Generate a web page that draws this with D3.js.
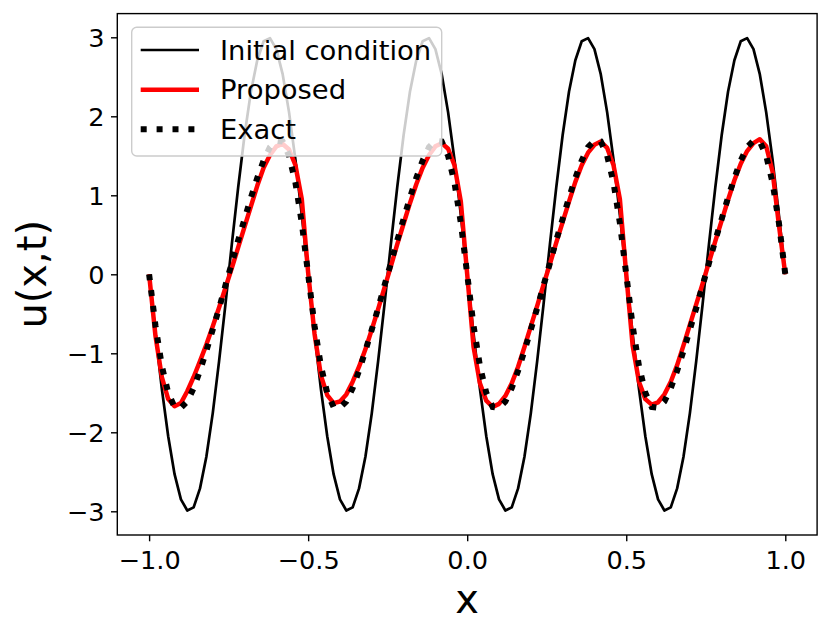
<!DOCTYPE html>
<html>
<head>
<meta charset="utf-8">
<script src="https://d3js.org/d3.v7.min.js"></script>
<style>
  body { margin: 0; background: #fff; }
  svg { display: block; font-family: "DejaVu Sans", sans-serif; }
</style>
</head>
<body>
<script>
// sample points along x (step 0.02)
var xGrid = [
  -1.00, -0.98, -0.96, -0.94, -0.92, -0.90, -0.88, -0.86, -0.84, -0.82,
  -0.80, -0.78, -0.76, -0.74, -0.72, -0.70, -0.68, -0.66, -0.64, -0.62,
  -0.60, -0.58, -0.56, -0.54, -0.52, -0.50, -0.48, -0.46, -0.44, -0.42,
  -0.40, -0.38, -0.36, -0.34, -0.32, -0.30, -0.28, -0.26, -0.24, -0.22,
  -0.20, -0.18, -0.16, -0.14, -0.12, -0.10, -0.08, -0.06, -0.04, -0.02,
   0.00,  0.02,  0.04,  0.06,  0.08,  0.10,  0.12,  0.14,  0.16,  0.18,
   0.20,  0.22,  0.24,  0.26,  0.28,  0.30,  0.32,  0.34,  0.36,  0.38,
   0.40,  0.42,  0.44,  0.46,  0.48,  0.50,  0.52,  0.54,  0.56,  0.58,
   0.60,  0.62,  0.64,  0.66,  0.68,  0.70,  0.72,  0.74,  0.76,  0.78,
   0.80,  0.82,  0.84,  0.86,  0.88,  0.90,  0.92,  0.94,  0.96,  0.98,
   1.00
];

// black solid curve
var initialCondition = [
  0, -0.75, -1.45, -2.05, -2.53, -2.85, -2.99, -2.95, -2.71, -2.31, -1.76, -1.10, -0.38,
  0.38, 1.10, 1.76, 2.31, 2.71, 2.95, 2.99, 2.85, 2.53, 2.05, 1.45, 0.75,
  0, -0.75, -1.45, -2.05, -2.53, -2.85, -2.99, -2.95, -2.71, -2.31, -1.76, -1.10, -0.38,
  0.38, 1.10, 1.76, 2.31, 2.71, 2.95, 2.99, 2.85, 2.53, 2.05, 1.45, 0.75,
  0, -0.75, -1.45, -2.05, -2.53, -2.85, -2.99, -2.95, -2.71, -2.31, -1.76, -1.10, -0.38,
  0.38, 1.10, 1.76, 2.31, 2.71, 2.95, 2.99, 2.85, 2.53, 2.05, 1.45, 0.75,
  0, -0.75, -1.45, -2.05, -2.53, -2.85, -2.99, -2.95, -2.71, -2.31, -1.76, -1.10, -0.38,
  0.38, 1.10, 1.76, 2.31, 2.71, 2.95, 2.99, 2.85, 2.53, 2.05, 1.45, 0.75,
  0
];

// red curve
var proposed = [
  0, -0.78, -1.30, -1.58, -1.67, -1.63, -1.48, -1.30, -1.10, -0.89, -0.66, -0.42, -0.17,
  0.08, 0.34, 0.60, 0.86, 1.12, 1.35, 1.51, 1.62, 1.65, 1.58, 1.38, 0.95,
  0.02, -0.75, -1.28, -1.53, -1.63, -1.61, -1.52, -1.36, -1.17, -0.95, -0.70, -0.44, -0.17,
  0.10, 0.38, 0.64, 0.90, 1.14, 1.35, 1.51, 1.62, 1.66, 1.59, 1.38, 0.92,
  0, -0.92, -1.38, -1.60, -1.68, -1.64, -1.54, -1.38, -1.17, -0.92, -0.66, -0.40, -0.13,
  0.13, 0.40, 0.66, 0.92, 1.17, 1.38, 1.54, 1.64, 1.68, 1.60, 1.38, 0.95,
  0, -0.90, -1.36, -1.58, -1.65, -1.62, -1.52, -1.36, -1.15, -0.90, -0.64, -0.38, -0.12,
  0.15, 0.42, 0.68, 0.94, 1.19, 1.40, 1.56, 1.66, 1.71, 1.62, 1.30, 0.62,
  0
];

// dotted curve
var exact = [
  0, -0.65, -1.16, -1.50, -1.68, -1.69, -1.61, -1.44, -1.22, -0.97, -0.70, -0.43, -0.14,
  0.14, 0.43, 0.70, 0.97, 1.22, 1.44, 1.61, 1.69, 1.68, 1.50, 1.16, 0.65,
  0, -0.65, -1.16, -1.50, -1.68, -1.69, -1.61, -1.44, -1.22, -0.97, -0.70, -0.43, -0.14,
  0.14, 0.43, 0.70, 0.97, 1.22, 1.44, 1.61, 1.69, 1.68, 1.50, 1.16, 0.65,
  0, -0.65, -1.16, -1.50, -1.68, -1.69, -1.61, -1.44, -1.22, -0.97, -0.70, -0.43, -0.14,
  0.14, 0.43, 0.70, 0.97, 1.22, 1.44, 1.61, 1.69, 1.68, 1.50, 1.16, 0.65,
  0, -0.65, -1.16, -1.50, -1.68, -1.69, -1.61, -1.44, -1.22, -0.97, -0.70, -0.43, -0.14,
  0.14, 0.43, 0.70, 0.97, 1.22, 1.44, 1.61, 1.69, 1.68, 1.50, 1.16, 0.65,
  0
];

var xTicks = [-1.0, -0.5, 0.0, 0.5, 1.0];
var yTicks = [-3, -2, -1, 0, 1, 2, 3];
var legendLabels = ["Initial condition", "Proposed", "Exact"];

window.onload = function(){

  var w = 831, h = 639;
  var left = 117.3, right = 817.1, top = 13.6, bottom = 535;

  var svg = d3.select("body")
    .append("svg")
    .attr("width", w)
    .attr("height", h);

  var x = d3.scaleLinear().domain([-1.1, 1.1]).range([left, right]);
  var y = d3.scaleLinear().domain([-3.3, 3.3]).range([bottom, top]);

  var line = d3.line()
    .x(function(d){ return x(d[0]); })
    .y(function(d){ return y(d[1]); });

  // curves: black, red, then dots on top
  svg.append("path")
    .datum(d3.zip(xGrid, initialCondition))
    .attr("d", line)
    .attr("fill", "none")
    .attr("stroke", "#000")
    .attr("stroke-width", 2.7)
    .attr("stroke-linejoin", "round");

  svg.append("path")
    .datum(d3.zip(xGrid, proposed))
    .attr("d", line)
    .attr("fill", "none")
    .attr("stroke", "#ff0000")
    .attr("stroke-width", 4.5)
    .attr("stroke-linejoin", "round");

  svg.append("path")
    .datum(d3.zip(xGrid, exact))
    .attr("d", line)
    .attr("fill", "none")
    .attr("stroke", "#000")
    .attr("stroke-width", 6)
    .attr("stroke-dasharray", "6,9.9");

  // axes
  var xAxis = d3.axisBottom(x)
    .tickValues(xTicks)
    .tickFormat(d3.format(".1f"))
    .tickSize(6.3)
    .tickSizeOuter(0);

  var gx = svg.append("g")
    .attr("transform", "translate(0," + bottom + ")")
    .call(xAxis);
  gx.select(".domain").remove();
  gx.selectAll("line").attr("stroke", "#000").attr("stroke-width", 1.4);
  gx.selectAll("text")
    .attr("y", 34.3)
    .attr("dy", null)
    .attr("fill", "#000")
    .style("font-size", "25.6px")
    .style("font-family", "DejaVu Sans, sans-serif");

  var yAxis = d3.axisLeft(y)
    .tickValues(yTicks)
    .tickFormat(d3.format("d"))
    .tickSize(6.3)
    .tickSizeOuter(0);

  var gy = svg.append("g")
    .attr("transform", "translate(" + left + ",0)")
    .call(yAxis);
  gy.select(".domain").remove();
  gy.selectAll("line").attr("stroke", "#000").attr("stroke-width", 1.4);
  gy.selectAll("text")
    .attr("x", -12.8)
    .attr("dy", "0.36em")
    .attr("fill", "#000")
    .style("font-size", "25.6px")
    .style("font-family", "DejaVu Sans, sans-serif");

  // frame
  svg.append("rect")
    .attr("x", left)
    .attr("y", top)
    .attr("width", right - left)
    .attr("height", bottom - top)
    .attr("fill", "none")
    .attr("stroke", "#000")
    .attr("stroke-width", 1.4);

  // axis titles
  svg.append("text")
    .attr("x", (left + right) / 2)
    .attr("y", 613.3)
    .attr("text-anchor", "middle")
    .style("font-size", "40px")
    .text("x");

  svg.append("text")
    .attr("transform", "translate(46," + y(0) + ") rotate(-90)")
    .attr("text-anchor", "middle")
    .style("font-size", "40px")
    .text("u(x,t)");

  // legend
  var legend = svg.append("g").attr("class", "legend");
  legend.append("rect")
    .attr("x", 131.7)
    .attr("y", 27.3)
    .attr("width", 310)
    .attr("height", 128.7)
    .attr("rx", 5)
    .attr("fill", "#fff")
    .attr("fill-opacity", 0.8)
    .attr("stroke", "#cccccc")
    .attr("stroke-width", 1.4);

  var handleStyles = [
    { color: "#000", width: 2.7, dash: null },
    { color: "#ff0000", width: 4.5, dash: null },
    { color: "#000", width: 6, dash: "6,9.9" }
  ];

  legendLabels.forEach(function(label, i){
    var ly = 50 + i * 39.65;
    legend.append("line")
      .attr("x1", 140.7)
      .attr("x2", 199)
      .attr("y1", ly)
      .attr("y2", ly)
      .attr("stroke", handleStyles[i].color)
      .attr("stroke-width", handleStyles[i].width)
      .attr("stroke-dasharray", handleStyles[i].dash);
    legend.append("text")
      .attr("x", 220)
      .attr("y", ly + 9.6)
      .style("font-size", "27.4px")
      .text(label);
  });

};
</script>
</body>
</html>
